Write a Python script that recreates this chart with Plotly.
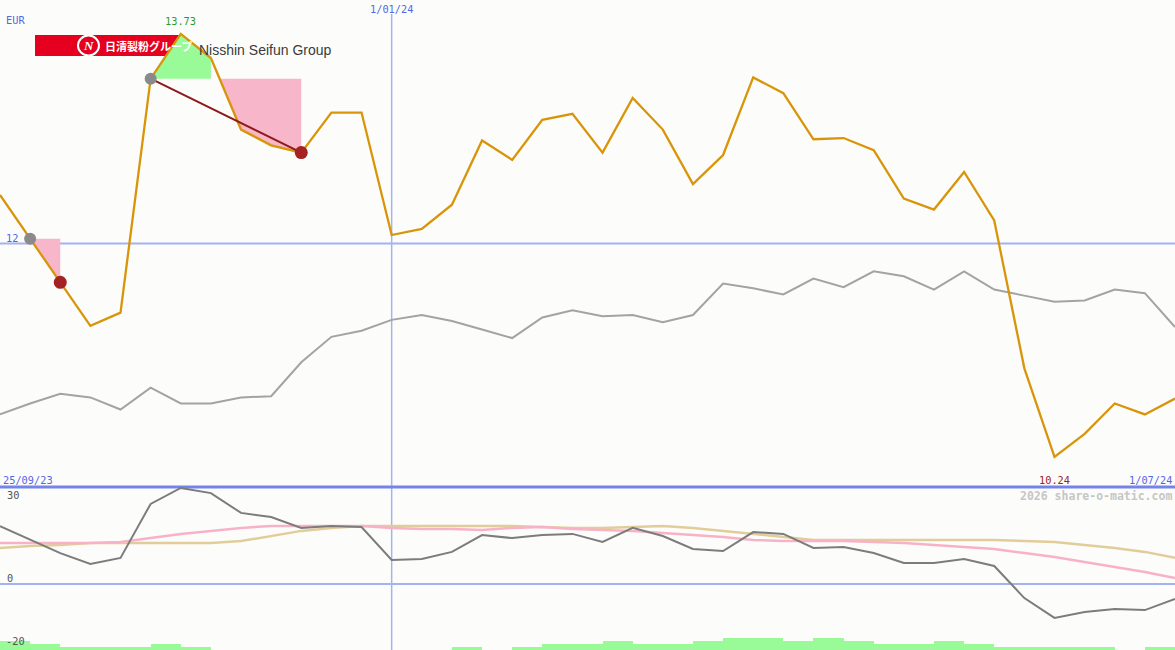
import plotly.graph_objects as go
import pandas as pd

# ---------------- data ----------------
dates = [d.strftime("%Y-%m-%d") for d in pd.date_range("2023-10-02", periods=40, freq="7D")]

price = [12.40, 12.04, 11.68, 11.32, 11.43, 13.36, 13.73, 13.53, 12.94, 12.81,
         12.75, 13.08, 13.08, 12.07, 12.12, 12.32, 12.85, 12.69, 13.02, 13.07,
         12.75, 13.20, 12.94, 12.49, 12.73, 13.37, 13.24, 12.86, 12.87, 12.77,
         12.37, 12.28, 12.59, 12.19, 10.97, 10.24, 10.43, 10.68, 10.59, 10.72]

peer = [10.59, 10.68, 10.76, 10.73, 10.63, 10.81, 10.68, 10.68, 10.73, 10.74,
        11.02, 11.23, 11.28, 11.37, 11.41, 11.36, 11.29, 11.22, 11.39, 11.45,
        11.40, 11.41, 11.35, 11.41, 11.67, 11.63, 11.58, 11.71, 11.64, 11.77,
        11.73, 11.62, 11.77, 11.62, 11.57, 11.52, 11.53, 11.62, 11.59, 11.31]

osc = [19.3, 14.7, 10.3, 6.7, 8.7, 26.7, 32.0, 30.3, 23.7, 22.3,
       18.7, 19.3, 19.0, 8.0, 8.3, 10.7, 16.3, 15.3, 16.3, 16.7,
       14.0, 18.7, 16.0, 11.7, 11.0, 17.3, 16.7, 12.0, 12.3, 10.3,
       7.0, 7.0, 8.3, 6.0, -4.7, -11.3, -9.3, -8.3, -8.7, -5.0]

osc_fast = [13.7, 13.7, 13.7, 13.7, 14.0, 15.3, 16.7, 17.7, 18.7, 19.3,
            19.3, 19.3, 19.3, 18.7, 18.3, 18.3, 18.0, 18.7, 19.0, 18.3,
            18.0, 17.7, 17.0, 16.3, 15.7, 14.7, 14.3, 14.3, 14.3, 14.0,
            13.7, 13.0, 12.3, 11.7, 10.3, 9.0, 7.3, 5.7, 4.0, 2.0]

osc_slow = [12.0, 12.7, 13.0, 13.7, 13.7, 13.7, 13.7, 13.7, 14.3, 16.0,
            17.7, 18.7, 19.3, 19.3, 19.3, 19.3, 19.3, 19.3, 19.0, 18.7,
            18.7, 19.0, 19.3, 18.7, 17.7, 16.7, 15.7, 14.7, 14.7, 14.7,
            14.7, 14.7, 14.7, 14.7, 14.3, 14.0, 13.0, 12.0, 10.7, 8.7]

volume = [3, 2, 1, 1, 1, 2, 1, 0, 0, 0, 0, 0, 0, 0, 0, 1, 0, 1, 2, 2,
          3, 2, 2, 3, 4, 4, 3, 4, 3, 2, 2, 3, 2, 1, 1, 1, 1, 0, 1]

date_labels = ["25/09/23", "1/01/24", "1/07/24"]
currency = "EUR"
brand_jp = "日清製粉グループ"
brand_en = "Nisshin Seifun Group"
credit = "2026 share-o-matic.com"

# ---------------- styling ----------------
BG = "#fcfdfb"
ORANGE = "#d9950a"
GRID = "#a4b2f2"
DARKBLUE = "#7484ea"
LBLUE = "#5466e6"
GREENF = "#98fb98"
PINKF = "#f8b6ca"
MONO = "DejaVu Sans Mono"

W, H = 1175, 650
split = 1 - 487 / H

def py(pix):
    return 1 - pix / H

def px(pix):
    return pix / W

d = pd.to_datetime(dates)
fig = go.Figure()

# gain / loss fills
i_a, i_b, i_c = 5, 7, 10
fig.add_trace(go.Scatter(
    x=[dates[i_a], dates[i_a + 1], dates[i_b], dates[i_b]],
    y=[price[i_a], price[i_a + 1], price[i_b], price[i_a]],
    fill="toself", fillcolor=GREENF, mode="lines", line=dict(width=0),
    hoverinfo="skip", showlegend=False))
t = (price[i_a] - price[i_b]) / (price[i_b + 1] - price[i_b])
cross = d[i_b] + (d[i_b + 1] - d[i_b]) * t
fig.add_trace(go.Scatter(
    x=[d[i_b], d[i_c], d[i_c], d[i_c - 1], d[i_b + 1], cross, d[i_b]],
    y=[price[i_a], price[i_a], price[i_c], price[i_c - 1], price[i_b + 1], price[i_a], price[i_a]],
    fill="toself", fillcolor=PINKF, mode="lines", line=dict(width=0),
    hoverinfo="skip", showlegend=False))
fig.add_trace(go.Scatter(
    x=[dates[1], dates[2], dates[2], dates[1]],
    y=[price[1], price[1], price[2], price[1]],
    fill="toself", fillcolor=PINKF, mode="lines", line=dict(width=0),
    hoverinfo="skip", showlegend=False))

# main lines
fig.add_trace(go.Scatter(x=dates, y=peer, mode="lines",
                         line=dict(color="#a3a3a3", width=2), hoverinfo="skip", showlegend=False))
fig.add_trace(go.Scatter(x=dates, y=price, mode="lines",
                         line=dict(color=ORANGE, width=2.3), hoverinfo="skip", showlegend=False))
fig.add_trace(go.Scatter(x=[dates[i_a], dates[i_c]], y=[price[i_a], price[i_c]], mode="lines",
                         line=dict(color="#8e1b1b", width=2), hoverinfo="skip", showlegend=False))
fig.add_trace(go.Scatter(x=[dates[1], dates[i_a]], y=[price[1], price[i_a]], mode="markers",
                         marker=dict(color="#8a8a8a", size=12), hoverinfo="skip", showlegend=False))
fig.add_trace(go.Scatter(x=[dates[2], dates[i_c]], y=[price[2], price[i_c]], mode="markers",
                         marker=dict(color="#a52222", size=13), hoverinfo="skip", showlegend=False))

# lower panel
fig.add_trace(go.Scatter(x=dates, y=osc_slow, mode="lines", yaxis="y2",
                         line=dict(color="#e2cc9a", width=2.5), hoverinfo="skip", showlegend=False))
fig.add_trace(go.Scatter(x=dates, y=osc_fast, mode="lines", yaxis="y2",
                         line=dict(color="#f8b2c8", width=2.5), hoverinfo="skip", showlegend=False))
fig.add_trace(go.Scatter(x=dates, y=osc, mode="lines", yaxis="y2",
                         line=dict(color="#7c7c7c", width=2), hoverinfo="skip", showlegend=False))

bar_x = d[:-1] + pd.Timedelta(days=3.5)
fig.add_trace(go.Bar(x=bar_x, y=volume, yaxis="y3", width=7 * 86400000,
                     marker=dict(color=GREENF, line=dict(width=0)),
                     hoverinfo="skip", showlegend=False))

shapes = [
    dict(type="line", xref="paper", yref="y", x0=0, x1=1, y0=12, y1=12,
         line=dict(color=GRID, width=2), layer="below"),
    dict(type="line", xref="x", yref="paper", x0="2024-01-01", x1="2024-01-01", y0=0, y1=py(14),
         line=dict(color=GRID, width=1.5), layer="below"),
    dict(type="line", xref="paper", yref="y2", x0=0, x1=1, y0=0, y1=0,
         line=dict(color=GRID, width=2), layer="below"),
    dict(type="line", xref="paper", yref="paper", x0=0, x1=1, y0=split, y1=split,
         line=dict(color=DARKBLUE, width=3), layer="below"),
    # logo
    dict(type="rect", xref="paper", yref="paper", x0=px(35), x1=px(184), y0=py(56), y1=py(35),
         fillcolor="#e5001f", line=dict(width=0), layer="below"),
    dict(type="circle", xref="paper", yref="paper", x0=px(78), x1=px(99), y0=py(55.5), y1=py(35.5),
         fillcolor="#e5001f", line=dict(color="white", width=2), layer="below"),
]

def ann(text, x, y, color, size=10.3, xanchor="left", xref="paper", family=MONO, **kw):
    return dict(text=text, x=x, y=y, xref=xref, yref="paper", showarrow=False,
                xanchor=xanchor, yanchor="middle",
                font=dict(family=family, size=size, color=color), **kw)

imax = price.index(max(price))
imin = price.index(min(price))
annotations = [
    ann(currency, px(4), py(20), LBLUE),
    ann("12", px(4), py(238), LBLUE),
    ann(f"{max(price):.2f}", dates[imax], py(21), "#2f9a2f", xanchor="center", xref="x"),
    ann(f"{min(price):.2f}", dates[imin], py(480), "#a31c1c", xanchor="center", xref="x"),
    ann(date_labels[1], "2024-01-01", py(9), LBLUE, xanchor="center", xref="x"),
    ann(date_labels[0], px(1), py(480), LBLUE),
    ann(date_labels[2], px(1174), py(480), LBLUE, xanchor="right"),
    ann(f"<b>{credit}</b>", px(1174), py(496), "#c6c6c6", size=11.5, xanchor="right"),
    ann("30", px(5), py(495), "#555555"),
    ann("0", px(5), py(578), "#555555"),
    ann("-20", px(4), py(641), "#555555"),
    ann("<i><b>N</b></i>", px(88.5), py(45.5), "white", size=13, xanchor="center",
        family="Liberation Serif"),
    ann(f"<b>{brand_jp}</b>", px(103), py(45.5), "white", size=11,
        family="Noto Sans CJK JP"),
    ann(brand_en, px(197), py(50), "#3a3a3a", size=14, family="Liberation Sans"),
]

fig.update_layout(
    width=W, height=H,
    margin=dict(l=0, r=0, t=0, b=0),
    paper_bgcolor=BG, plot_bgcolor=BG,
    showlegend=False, bargap=0,
    xaxis=dict(type="date", range=[dates[0], dates[-1]], visible=False, fixedrange=True),
    yaxis=dict(domain=[split, 1], range=[9.991, 14.009], visible=False),
    yaxis2=dict(domain=[0, split], range=[-22, 32.33], visible=False, anchor="x"),
    yaxis3=dict(overlaying="y2", range=[0, 54.33], visible=False, anchor="x"),
    shapes=shapes,
    annotations=annotations,
)

fig.write_html(
    "out.html",
    config={"displayModeBar": False},
    post_script="document.body.style.margin='0';document.body.style.overflow='hidden';"
                "document.body.style.background='" + BG + "';",
)
